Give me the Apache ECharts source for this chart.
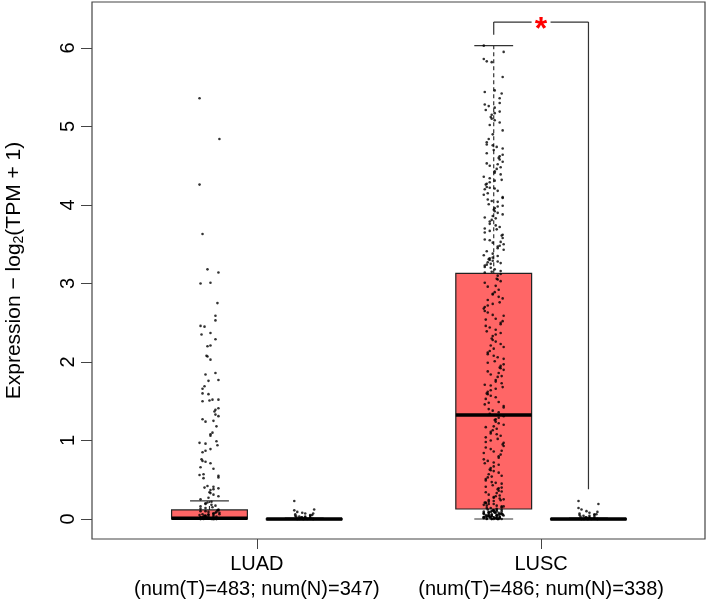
<!DOCTYPE html>
<html>
<head>
<meta charset="utf-8">
<script src="https://cdn.jsdelivr.net/npm/echarts@6/dist/echarts.min.js"></script>
<style>
  html, body { margin: 0; padding: 0; background: #fff; }
  #chart { width: 709px; height: 607px; }
</style>
</head>
<body>
<div id="chart"></div>
<script>
// groups and tick labels
const groups = ['LUAD', 'LUSC'];
const groupNotes = ['(num(T)=483; num(N)=347)', '(num(T)=486; num(N)=338)'];
const groupTicks = [1.5, 4.5];
const yTicks = [0, 1, 2, 3, 4, 5, 6];

// box slots: LUAD tumor, LUAD normal, LUSC tumor, LUSC normal
const boxPositions = [1, 2, 4, 5];
// [lower whisker, Q1, median, Q3, upper whisker]
const boxStats = [
  [0, 0, 0.01, 0.115, 0.23],
  [0, 0, 0, 0.004, 0.01],
  [0, 0.127, 1.325, 3.13, 6.03],
  [0, 0, 0, 0.004, 0.01]
];
const boxFills = ['#FF6666', '#BEBEBE', '#FF6666', '#BEBEBE'];

// significance bracket between LUSC tumor and normal: [x1, x2, top, left end, right end]
const bracket = [4, 5, 6.33, 6.17, 0.38];

// individual samples (expression values)
const luadTumor = [
  5.36, 4.84, 4.26, 3.63, 3.18, 3.14, 3.01, 3.00, 2.75, 2.59, 2.53, 2.46, 2.45, 2.37, 2.35, 2.29,
  2.21, 2.20, 2.08, 2.07, 2.03, 1.86, 1.84, 1.77, 1.76, 1.69, 1.66, 1.60, 1.59, 1.52, 1.52, 1.51,
  1.50, 1.41, 1.39, 1.37, 1.33, 1.31, 1.27, 1.25, 1.24, 1.18, 1.10, 1.08, 1.06, 0.99, 0.97, 0.96,
  0.94, 0.89, 0.87, 0.85, 0.76, 0.74, 0.73, 0.71, 0.66, 0.64, 0.57, 0.56, 0.55, 0.53, 0.52, 0.42,
  0.41, 0.40, 0.39, 0.38, 0.37, 0.34, 0.33, 0.31, 0.29, 0.27, 0.25, 0.22, 0.21, 0.20, 0.19, 0.18,
  0.17, 0.16, 0.15, 0.14, 0.13, 0.12, 0.11, 0.11, 0.10, 0.10, 0.09, 0.09, 0.08, 0.08, 0.07, 0.07,
  0.06, 0.06, 0.06, 0.05, 0.05, 0.05, 0.04, 0.04, 0.04, 0.03, 0.03, 0.03, 0.03, 0.02, 0.02, 0.02,
  0.02, 0.01, 0.01, 0.01, 0.01, 0.00, 0.00, 0.00, 0.00, 0.00, 0.00, 0.00, 0.00, 0.00, 0.00
];
const luadNormal = [
  0.23, 0.12, 0.11, 0.09, 0.08, 0.07, 0.07, 0.06, 0.05, 0.05, 0.04, 0.04, 0.03, 0.03, 0.03, 0.02,
  0.02, 0.02, 0.02, 0.01, 0.01, 0.01, 0.01, 0.00, 0.00, 0.00, 0.00, 0.00, 0.00, 0.00, 0.00
];
const luscTumor = [
  6.03, 5.95, 5.86, 5.83, 5.82, 5.63, 5.46, 5.44, 5.42, 5.36, 5.30, 5.28, 5.26, 5.24, 5.21, 5.19,
  5.17, 5.15, 5.12, 5.10, 5.08, 5.05, 5.02, 4.95, 4.90, 4.84, 4.80, 4.77, 4.76, 4.74, 4.72, 4.70,
  4.66, 4.64, 4.62, 4.60, 4.58, 4.55, 4.53, 4.52, 4.50, 4.48, 4.46, 4.43, 4.41, 4.39, 4.36, 4.34,
  4.32, 4.31, 4.29, 4.27, 4.26, 4.23, 4.22, 4.21, 4.20, 4.18, 4.15, 4.13, 4.10, 4.09, 4.07, 4.05,
  4.04, 4.01, 3.99, 3.98, 3.96, 3.94, 3.92, 3.90, 3.88, 3.86, 3.84, 3.83, 3.81, 3.79, 3.76, 3.74,
  3.72, 3.70, 3.69, 3.67, 3.65, 3.62, 3.61, 3.58, 3.56, 3.55, 3.53, 3.52, 3.50, 3.48, 3.47, 3.45,
  3.43, 3.41, 3.38, 3.36, 3.35, 3.33, 3.32, 3.31, 3.30, 3.29, 3.28, 3.27, 3.26, 3.25, 3.24, 3.23,
  3.21, 3.20, 3.18, 3.16, 3.15, 3.14,
  3.12, 3.10, 3.06, 3.05, 3.03, 3.01, 2.97, 2.96, 2.92, 2.89, 2.87, 2.86, 2.83, 2.81, 2.79, 2.76,
  2.74, 2.72, 2.70, 2.68, 2.65, 2.63, 2.60, 2.59, 2.55, 2.54, 2.52, 2.50, 2.48, 2.46, 2.44, 2.41,
  2.39, 2.37, 2.35, 2.33, 2.30, 2.28, 2.26, 2.23, 2.21, 2.19, 2.17, 2.14, 2.12, 2.10, 2.08, 2.06,
  2.04, 2.01, 1.99, 1.97, 1.95, 1.93, 1.92, 1.90, 1.88, 1.86, 1.84, 1.82, 1.81, 1.77, 1.75, 1.73,
  1.71, 1.70, 1.68, 1.66, 1.64, 1.62, 1.60, 1.59, 1.57, 1.55, 1.53, 1.49, 1.48, 1.46, 1.44, 1.42,
  1.40, 1.38, 1.36, 1.34,
  1.31, 1.29, 1.27, 1.26, 1.24, 1.22, 1.20, 1.18, 1.17, 1.15, 1.13, 1.11, 1.09, 1.08, 1.06, 1.04,
  1.02, 1.00, 0.98, 0.97, 0.95, 0.93, 0.91, 0.89, 0.87, 0.86, 0.84, 0.82, 0.80, 0.78, 0.76, 0.74,
  0.72, 0.71, 0.69, 0.67, 0.65, 0.63, 0.62, 0.61, 0.59, 0.57, 0.55, 0.54, 0.53, 0.51, 0.49, 0.47,
  0.46, 0.45, 0.43, 0.41, 0.40, 0.39, 0.38, 0.36, 0.35, 0.34, 0.33, 0.31, 0.30, 0.29, 0.28, 0.27,
  0.26, 0.25, 0.24, 0.24, 0.23, 0.22, 0.21, 0.21, 0.20, 0.19, 0.19, 0.18, 0.17, 0.17, 0.16, 0.16,
  0.15, 0.14, 0.14, 0.13,
  0.12, 0.12, 0.115, 0.11, 0.11, 0.105, 0.10, 0.10, 0.10, 0.095, 0.09, 0.09, 0.09, 0.085, 0.08, 0.08,
  0.08, 0.08, 0.075, 0.07, 0.07, 0.07, 0.07, 0.065, 0.06, 0.06, 0.06, 0.06, 0.055, 0.05, 0.05, 0.05,
  0.05, 0.05, 0.045, 0.04, 0.04, 0.04, 0.04, 0.04, 0.035, 0.03, 0.03, 0.03, 0.03, 0.03, 0.025, 0.02,
  0.02, 0.02, 0.02, 0.02, 0.02, 0.015, 0.01, 0.01, 0.01, 0.01, 0.01, 0.01, 0.005, 0.00, 0.00, 0.00,
  0.00, 0.00, 0.00, 0.00, 0.00
];
const luscNormal = [
  0.23, 0.19, 0.14, 0.12, 0.10, 0.09, 0.08, 0.07, 0.06, 0.06, 0.05, 0.05, 0.04, 0.04, 0.03, 0.03,
  0.02, 0.02, 0.02, 0.01, 0.01, 0.01, 0.00, 0.00, 0.00, 0.00, 0.00, 0.00, 0.00, 0.00, 0.00, 0.00
];

const FONT = '"Liberation Sans", Arial, Helvetica, sans-serif';
const boxWidth = 0.8;
const capWidth = 0.41;
const jitterHalf = 0.105;

// spread points sideways like R's jitter(), but repeatable
function jitter(i) {
  return (((i * 61 + (i * i) % 17) % 21) - 10) / 10 * jitterHalf;
}
function points(values, pos) {
  return values.map((v, i) => [pos + jitter(i), v]);
}

const boxData = boxPositions.map((p, i) => [p].concat(boxStats[i]));

function renderBox(params, api) {
  const x = api.value(0);
  const lo = api.coord([x, api.value(1)]);
  const q1 = api.coord([x, api.value(2)]);
  const md = api.coord([x, api.value(3)]);
  const q3 = api.coord([x, api.value(4)]);
  const hi = api.coord([x, api.value(5)]);
  const w = api.size([boxWidth, 0])[0];
  const cw = api.size([capWidth, 0])[0];
  const cx = q1[0];
  const dashed = {stroke: '#333', lineWidth: 1.2, lineDash: [4, 3]};
  const solid = {stroke: '#333', lineWidth: 1.2};
  return {
    type: 'group',
    children: [
      {type: 'line', shape: {x1: cx, y1: q3[1], x2: cx, y2: hi[1]}, style: dashed},
      {type: 'line', shape: {x1: cx, y1: q1[1], x2: cx, y2: lo[1]}, style: dashed},
      {type: 'line', shape: {x1: cx - cw / 2, y1: hi[1], x2: cx + cw / 2, y2: hi[1]}, style: solid},
      {type: 'line', shape: {x1: cx - cw / 2, y1: lo[1], x2: cx + cw / 2, y2: lo[1]}, style: solid},
      {
        type: 'rect',
        shape: {x: cx - w / 2, y: q3[1], width: w, height: Math.max(q1[1] - q3[1], 1)},
        style: {fill: boxFills[params.dataIndex], stroke: '#222', lineWidth: 1.2}
      },
      {type: 'line', shape: {x1: cx - w / 2, y1: md[1], x2: cx + w / 2, y2: md[1]}, style: {stroke: '#000', lineWidth: 3.5}}
    ]
  };
}

function renderBracket(params, api) {
  const a = api.coord([api.value(0), api.value(2)]);
  const b = api.coord([api.value(1), api.value(2)]);
  const aEnd = api.coord([api.value(0), api.value(3)]);
  const bEnd = api.coord([api.value(1), api.value(4)]);
  const mid = (a[0] + b[0]) / 2;
  const gap = api.size([0.1, 0])[0];
  const st = {stroke: '#333', lineWidth: 1.2};
  return {
    type: 'group',
    children: [
      {type: 'line', shape: {x1: a[0], y1: aEnd[1], x2: a[0], y2: a[1]}, style: st},
      {type: 'line', shape: {x1: a[0], y1: a[1], x2: mid - gap, y2: a[1]}, style: st},
      {type: 'line', shape: {x1: mid + gap, y1: b[1], x2: b[0], y2: b[1]}, style: st},
      {type: 'line', shape: {x1: b[0], y1: b[1], x2: b[0], y2: bEnd[1]}, style: st},
      {
        type: 'text', x: mid, y: a[1] + 8,
        style: {text: '*', fill: '#FF0000', font: 'bold 32px ' + FONT, align: 'center', verticalAlign: 'middle'}
      }
    ]
  };
}

const chart = echarts.init(document.getElementById('chart'));
chart.setOption({
  animation: false,
  grid: {
    left: 92, right: 4, top: 2, bottom: 68, outerBoundsMode: 'none',
    show: true, borderColor: '#444', borderWidth: 1.2
  },
  xAxis: {
    type: 'value', min: -0.24, max: 6.23,
    axisLine: {show: false, onZero: false},
    splitLine: {show: false},
    axisTick: {show: true, customValues: groupTicks, length: 10, lineStyle: {color: '#444'}},
    axisLabel: {
      customValues: groupTicks,
      formatter: v => {
        const i = groupTicks.indexOf(v);
        return i < 0 ? '' : groups[i] + '\n' + groupNotes[i];
      },
      fontSize: 20, lineHeight: 25, margin: 13, color: '#000', fontFamily: FONT
    }
  },
  yAxis: {
    type: 'value', min: -0.255, max: 6.586,
    name: 'Expression \u2212 log{sub|2}(TPM + 1)',
    nameLocation: 'middle', nameRotate: 90, nameGap: 66,
    nameTextStyle: {
      fontSize: 21, color: '#000', fontFamily: FONT,
      rich: {sub: {fontSize: 14, fontFamily: FONT, color: '#000', padding: [9, 0, 0, 0]}}
    },
    axisLine: {show: false, onZero: false},
    splitLine: {show: false},
    axisTick: {show: true, customValues: yTicks, length: 11, lineStyle: {color: '#444'}},
    axisLabel: {customValues: yTicks, rotate: 90, margin: 14, fontSize: 20, color: '#000', fontFamily: FONT}
  },
  series: [
    {type: 'custom', renderItem: renderBox, encode: {x: 0, y: [1, 2, 3, 4, 5]}, data: boxData, z: 1},
    {
      type: 'scatter', symbol: 'circle', symbolSize: 2.6, itemStyle: {color: '#000'}, z: 3,
      data: points(luadTumor, boxPositions[0])
        .concat(points(luadNormal, boxPositions[1]))
        .concat(points(luscTumor, boxPositions[2]))
        .concat(points(luscNormal, boxPositions[3]))
    },
    {type: 'custom', renderItem: renderBracket, encode: {x: [0, 1], y: [2, 3, 4]}, data: [bracket], z: 4}
  ]
});
</script>
</body>
</html>
